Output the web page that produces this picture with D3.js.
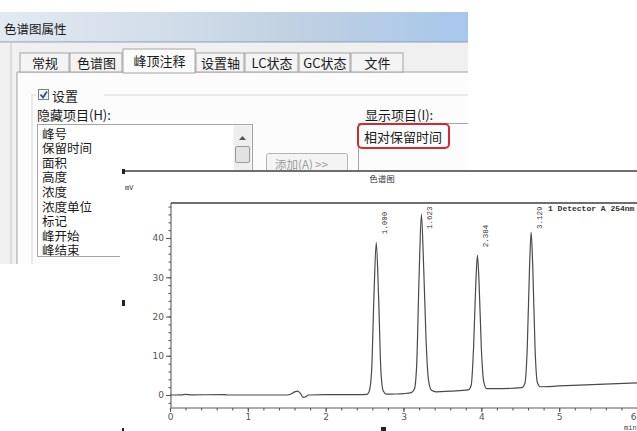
<!DOCTYPE html>
<html>
<head>
<meta charset="utf-8">
<script src="https://cdn.jsdelivr.net/npm/d3@7"></script>
<style>
  body { margin: 0; background: #fff; }
  svg { display: block; }
  .cjk { font-family: "Noto Sans CJK SC", sans-serif; }
  .mono { font-family: "Liberation Mono", monospace; }
</style>
</head>
<body>
<div id="chart"></div>
<script>
const width = 637;
const height = 431;

// dialog texts
const tabs = ["常规", "色谱图", "峰顶注释", "设置轴", "LC状态", "GC状态", "文件"];
const hiddenItems = ["峰号", "保留时间", "面积", "高度", "浓度", "浓度单位", "标记", "峰开始", "峰结束"];
const shownItems = ["相对保留时间"];

// chromatogram
const xTicks = [0, 1, 2, 3, 4, 5, 6];
const yTicks = [0, 10, 20, 30, 40];
const peakTimes = [2.65, 3.23, 3.95, 4.64];
const peakHeights = [38.9, 46.1, 35.6, 41.5];
const peakLabels = ["1.000", "1.623", "2.384", "3.129"];
const traceTime = [0, 0.15, 0.2, 0.28, 0.7, 0.75, 1.0, 1.5, 1.55, 1.6, 1.64, 1.68, 1.71, 1.74, 1.78, 2.0, 2.4,
  2.53, 2.56, 2.59, 2.62, 2.65, 2.68, 2.71, 2.74, 2.78, 2.9, 3.0,
  3.1, 3.14, 3.17, 3.2, 3.23, 3.26, 3.29, 3.32, 3.36, 3.42, 3.6,
  3.83, 3.87, 3.9, 3.93, 3.95, 3.97, 4.0, 4.03, 4.07, 4.2,
  4.52, 4.56, 4.59, 4.62, 4.64, 4.66, 4.69, 4.72, 4.76, 5.0, 5.5, 6.0];
const traceMv = [0, 0.05, 0.15, 0.05, 0.1, 0, 0, 0, 0.2, 0.8, 1.0, 0.3, -0.6, -0.5, 0, 0.1, 0.1,
  0.15, 1.0, 6, 25, 38.9, 25, 6, 1.0, 0.2, 0.25, 0.35,
  0.6, 1.5, 8, 30, 46.1, 32, 14, 4, 1.2, 0.8, 1.0,
  1.3, 2.5, 12, 29, 35.6, 29, 12, 3.5, 1.6, 1.6,
  1.9, 3, 12, 33, 41.5, 33, 12, 3.2, 2.1, 2.3, 2.7, 3.1];

const svg = d3.select("#chart")
    .append("svg")
    .attr("width", width)
    .attr("height", height);

svg.append("rect").attr("width", width).attr("height", height).attr("fill", "#fff");

// ---------- dialog screenshot ----------
const dlg = svg.append("g");
const DLG_RIGHT = 468;

const grad = svg.append("defs").append("linearGradient").attr("id", "titlebar");
grad.append("stop").attr("offset", "0").attr("stop-color", "#e3e9f1");
grad.append("stop").attr("offset", "0.35").attr("stop-color", "#d2dde9");
grad.append("stop").attr("offset", "0.65").attr("stop-color", "#bfd0e2");
grad.append("stop").attr("offset", "1").attr("stop-color", "#a7c7ec");

dlg.append("rect").attr("x", 0).attr("y", 12).attr("width", DLG_RIGHT).attr("height", 30).attr("fill", "url(#titlebar)");
dlg.append("line").attr("x1", 0).attr("x2", DLG_RIGHT).attr("y1", 42).attr("y2", 42).attr("stroke", "#8599b0");
dlg.append("text").attr("class", "cjk").attr("x", 4).attr("y", 28)
    .attr("dominant-baseline", "central").attr("font-size", 12.5).attr("fill", "#1a1a1a")
    .text("色谱图属性");

// panel
dlg.append("rect").attr("x", 0).attr("y", 43).attr("width", DLG_RIGHT).attr("height", 221).attr("fill", "#f0f0f0");
dlg.append("rect").attr("x", 17).attr("y", 72).attr("width", DLG_RIGHT - 17).attr("height", 192)
    .attr("fill", "#fcfcfc");
dlg.append("line").attr("x1", 17).attr("x2", 17).attr("y1", 72).attr("y2", 264).attr("stroke", "#a0a0a0");
dlg.append("line").attr("x1", 11).attr("x2", 11).attr("y1", 43).attr("y2", 264).attr("stroke", "#c8c8c8");
dlg.append("line").attr("x1", 17).attr("x2", DLG_RIGHT).attr("y1", 72).attr("y2", 72).attr("stroke", "#a0a0a0");

// tabs
const tabEdges = [20, 70, 123, 196, 245, 299, 351, 404];
const tabG = dlg.selectAll("g.tab")
    .data(tabs)
    .enter()
    .append("g")
    .attr("class", "tab");

tabG.append("rect")
    .attr("x", (d, i) => tabEdges[i])
    .attr("y", (d, i) => i === 2 ? 49 : 53)
    .attr("width", (d, i) => tabEdges[i + 1] - tabEdges[i] - 1)
    .attr("height", (d, i) => i === 2 ? 24 : 19)
    .attr("fill", (d, i) => i === 2 ? "#fcfcfc" : "#f4f4f4")
    .attr("stroke", "#a3a3a3");

tabG.append("text")
    .attr("class", "cjk")
    .attr("x", (d, i) => (tabEdges[i] + tabEdges[i + 1]) / 2)
    .attr("y", (d, i) => i === 2 ? 60 : 62)
    .attr("text-anchor", "middle")
    .attr("dominant-baseline", "central")
    .attr("font-size", 13)
    .attr("fill", "#1a1a1a")
    .text(d => d);

// group box
dlg.append("line").attr("x1", 32).attr("x2", 32).attr("y1", 95).attr("y2", 264).attr("stroke", "#d6d6d6");
dlg.append("line").attr("x1", 104).attr("x2", DLG_RIGHT).attr("y1", 95).attr("y2", 95).attr("stroke", "#d6d6d6");
dlg.append("line").attr("x1", 32).attr("x2", 36).attr("y1", 95).attr("y2", 95).attr("stroke", "#d6d6d6");

// checkbox
dlg.append("rect").attr("x", 38.5).attr("y", 89.5).attr("width", 10).attr("height", 10)
    .attr("fill", "#f6f8fb").attr("stroke", "#7a7f86");
dlg.append("path").attr("d", "M40.5,94.5 L43,97.5 L47,91.5").attr("fill", "none")
    .attr("stroke", "#27508f").attr("stroke-width", 1.8);
dlg.append("text").attr("class", "cjk").attr("x", 52).attr("y", 95)
    .attr("dominant-baseline", "central").attr("font-size", 13).attr("fill", "#1a1a1a").text("设置");

dlg.append("text").attr("class", "cjk").attr("x", 37).attr("y", 114)
    .attr("dominant-baseline", "central").attr("font-size", 13).attr("fill", "#1a1a1a").text("隐藏项目(H):");

// hidden items listbox
dlg.append("rect").attr("x", 37.5).attr("y", 124.5).attr("width", 215).attr("height", 132)
    .attr("fill", "#fff").attr("stroke", "#a5a5a5");
dlg.append("rect").attr("x", 233.5).attr("y", 125.5).attr("width", 18).attr("height", 130).attr("fill", "#eeeeee");
dlg.append("path").attr("d", "M239,140 L242.5,136 L246,140 Z").attr("fill", "#555");
dlg.append("rect").attr("x", 235.5).attr("y", 146.5).attr("width", 14).attr("height", 16)
    .attr("fill", "#e2e2e2").attr("stroke", "#9a9a9a").attr("rx", 1.5);

dlg.selectAll("text.item")
    .data(hiddenItems)
    .enter()
    .append("text")
    .attr("class", "cjk item")
    .attr("x", 42)
    .attr("y", (d, i) => 133 + i * 14.6)
    .attr("dominant-baseline", "central")
    .attr("font-size", 12.5)
    .attr("fill", "#1a1a1a")
    .text(d => d);

// add button
dlg.append("rect").attr("x", 266.5).attr("y", 153.5).attr("width", 81).attr("height", 22).attr("rx", 2)
    .attr("fill", "#f4f4f4").attr("stroke", "#b5b5b5");
dlg.append("text").attr("class", "cjk").attr("x", 275).attr("y", 164)
    .attr("dominant-baseline", "central").attr("font-size", 11.5).attr("fill", "#9a9a9a").text("添加(A) >>");

// shown items
dlg.append("text").attr("class", "cjk").attr("x", 365).attr("y", 114)
    .attr("dominant-baseline", "central").attr("font-size", 13).attr("fill", "#1a1a1a").text("显示项目(I):");
dlg.append("line").attr("x1", 358).attr("x2", DLG_RIGHT).attr("y1", 123.5).attr("y2", 123.5).attr("stroke", "#a5a5a5");
dlg.append("line").attr("x1", 358.5).attr("x2", 358.5).attr("y1", 123).attr("y2", 172).attr("stroke", "#a5a5a5");
dlg.selectAll("text.shown")
    .data(shownItems)
    .enter()
    .append("text")
    .attr("class", "cjk shown")
    .attr("x", 364)
    .attr("y", (d, i) => 136 + i * 14.6)
    .attr("dominant-baseline", "central")
    .attr("font-size", 13)
    .attr("fill", "#1a1a1a")
    .text(d => d);
dlg.append("rect").attr("x", 358).attr("y", 124).attr("width", 91).attr("height", 24).attr("rx", 4)
    .attr("fill", "none").attr("stroke", "#d42a2f").attr("stroke-width", 2);

// ---------- chromatogram overlay ----------
const chart = svg.append("g");
chart.append("rect").attr("x", 120).attr("y", 170).attr("width", width - 120).attr("height", height - 170)
    .attr("fill", "#fff");
chart.append("line").attr("x1", 122).attr("x2", width).attr("y1", 171).attr("y2", 171)
    .attr("stroke", "#6e6e6e").attr("stroke-width", 2);
chart.append("text").attr("class", "cjk").attr("x", 382).attr("y", 178)
    .attr("text-anchor", "middle").attr("dominant-baseline", "central")
    .attr("font-size", 8.5).attr("fill", "#333").text("色谱图");
chart.append("text").attr("class", "mono").attr("x", 125).attr("y", 188)
    .attr("dominant-baseline", "central").attr("font-size", 7).attr("fill", "#333").text("mV");

// stray marks along the left
[[122, 169, 3, 5], [122, 300, 3, 6], [122, 428, 2, 3], [381, 427, 5, 4]].forEach(m => {
  chart.append("rect").attr("x", m[0]).attr("y", m[1]).attr("width", m[2]).attr("height", m[3]).attr("fill", "#222");
});

const PLOT_TOP = 203;
const AXIS_Y = 408;
const AXIS_X = 171;

const x = d3.scaleLinear().domain([0, 6]).range([170, 637]);
const y = d3.scaleLinear().domain([0, 40]).range([395, 238]);

// frame
chart.append("line").attr("x1", AXIS_X).attr("x2", width).attr("y1", PLOT_TOP).attr("y2", PLOT_TOP)
    .attr("stroke", "#6e6e6e").attr("stroke-width", 2);

// y axis
const yMinor = chart.append("g").attr("transform", `translate(${AXIS_X},0)`)
    .call(d3.axisLeft(y).tickValues(d3.range(-2, 49, 2)).tickSize(2.5).tickFormat(""));
const yAxis = chart.append("g").attr("transform", `translate(${AXIS_X},0)`)
    .call(d3.axisLeft(y).tickValues(yTicks).tickSize(5).tickPadding(2).tickFormat(d3.format("d")));
yAxis.select(".domain").remove();
yMinor.select(".domain").attr("d", `M0,${PLOT_TOP}V${AXIS_Y}`);

// x axis
const xMinor = chart.append("g").attr("transform", `translate(0,${AXIS_Y})`)
    .call(d3.axisBottom(x).tickValues(d3.range(0, 6.01, 0.2)).tickSize(2.5).tickFormat(""));
const xAxis = chart.append("g").attr("transform", `translate(0,${AXIS_Y})`)
    .call(d3.axisBottom(x).tickValues(xTicks).tickSize(4).tickPadding(2).tickFormat(d3.format("d")));
xAxis.select(".domain").remove();
xMinor.select(".domain").attr("d", `M${AXIS_X},0H${width}`);

chart.selectAll(".tick line, .domain").attr("stroke", "#5a5a5a").attr("stroke-width", 1.1);
chart.selectAll(".tick text")
    .attr("font-family", "DejaVu Sans, sans-serif")
    .attr("font-size", 9)
    .attr("fill", "#555");
// last x label sits at the cut edge, as in the screenshot
xAxis.selectAll(".tick text").filter(d => d === 6).attr("text-anchor", "end").attr("dx", -1);

chart.append("text").attr("class", "mono").attr("x", 624).attr("y", 428)
    .attr("dominant-baseline", "central").attr("font-size", 7).attr("fill", "#444").text("min");

// trace
const points = traceTime.map((t, i) => [t, traceMv[i]]);
const line = d3.line()
    .x(d => x(d[0]))
    .y(d => y(d[1]))
    .curve(d3.curveMonotoneX);

chart.append("path")
    .datum(points)
    .attr("d", line)
    .attr("fill", "none")
    .attr("stroke", "#4a4a4a")
    .attr("stroke-width", 1.2);

// peak labels
chart.selectAll("text.peak")
    .data(peakLabels)
    .enter()
    .append("text")
    .attr("class", "mono peak")
    .attr("transform", (d, i) => {
      const px = x(peakTimes[i]) + 9;
      const py = Math.max(y(peakHeights[i]) - 8, PLOT_TOP + 26);
      return `translate(${px},${py}) rotate(-90)`;
    })
    .attr("dominant-baseline", "central")
    .attr("font-size", 7.5)
    .attr("fill", "#333")
    .text(d => d);

chart.append("text").attr("class", "mono").attr("x", 548).attr("y", 208)
    .attr("dominant-baseline", "central").attr("font-size", 8).attr("font-weight", "bold")
    .attr("fill", "#333").text("1 Detector A 254nm");
</script>
</body>
</html>
